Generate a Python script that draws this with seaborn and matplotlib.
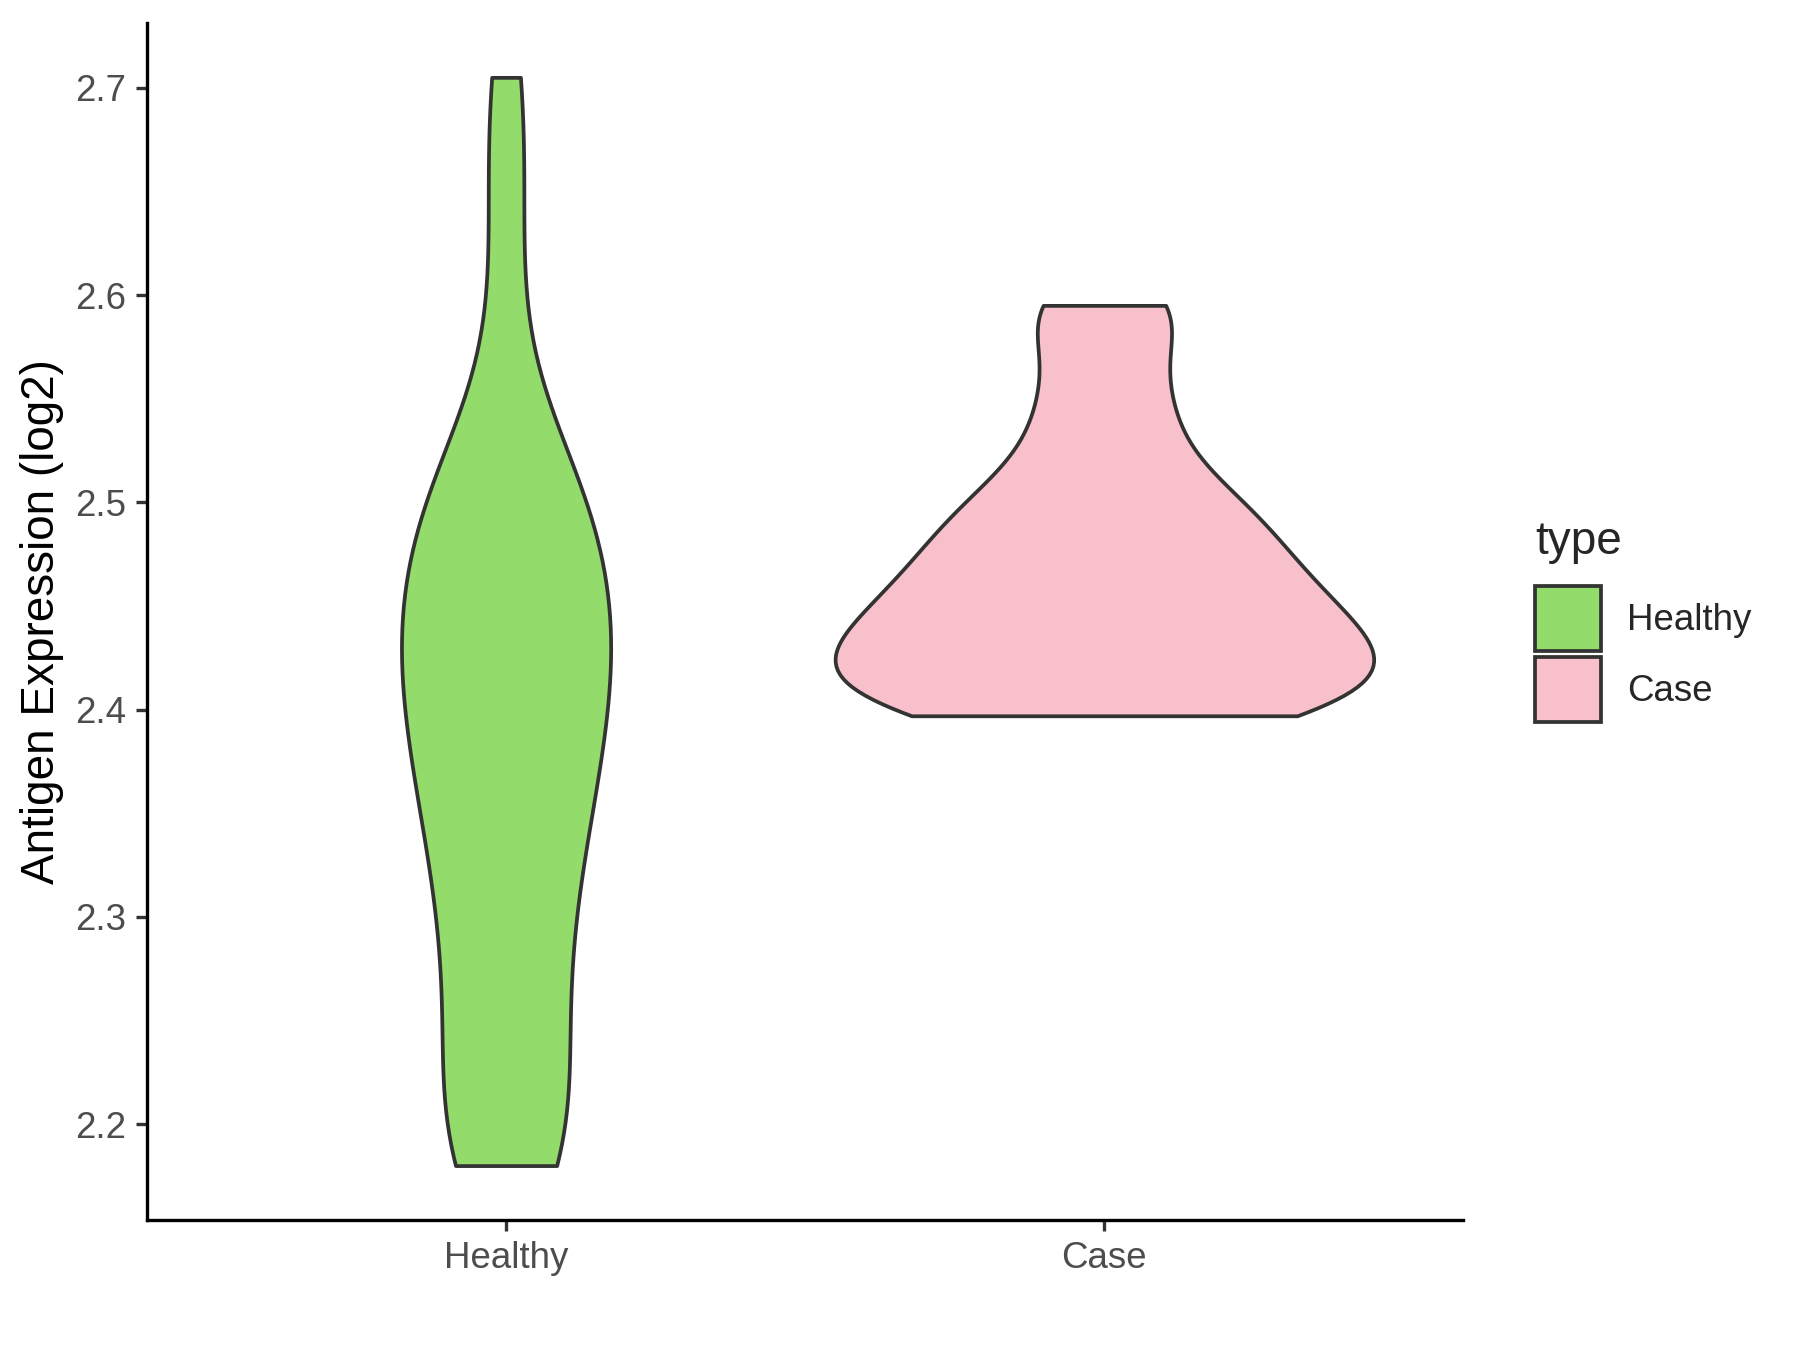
import pandas as pd
import matplotlib.pyplot as plt
import seaborn as sns
from matplotlib.patches import Patch

# values (log2 antigen expression)
groups = ["Healthy", "Case"]
healthy = [2.18, 2.182, 2.185, 2.195, 2.21, 2.23, 2.25, 2.265, 2.28, 2.295, 2.31,
           2.325, 2.34, 2.35, 2.36, 2.37, 2.38, 2.39, 2.40, 2.41, 2.42, 2.43, 2.435,
           2.44, 2.45, 2.46, 2.47, 2.48, 2.49, 2.50, 2.51, 2.52, 2.53, 2.60, 2.66,
           2.705]
case = [2.397, 2.399, 2.40, 2.405, 2.41, 2.415, 2.42, 2.425, 2.43, 2.435, 2.44,
        2.445, 2.45, 2.46, 2.465, 2.47, 2.48, 2.49, 2.495, 2.505, 2.52, 2.54, 2.56,
        2.59, 2.595]
colors = ["#93DC6B", "#F7C0CB"]
yticks = [2.2, 2.3, 2.4, 2.5, 2.6, 2.7]

df = pd.DataFrame({
    "type": ["Healthy"] * len(healthy) + ["Case"] * len(case),
    "value": healthy + case,
})

sns.set_style("white")
plt.rcParams["font.family"] = ["Liberation Sans", "DejaVu Sans"]

fig = plt.figure(figsize=(6, 4.5), dpi=300)
ax = fig.add_axes([0.0817, 0.0963, 0.7313, 0.8867])
# no hue here so "area" scaling is shared by both violins
sns.violinplot(data=df, x="type", y="value", order=groups, color="white",
               cut=0, inner=None, density_norm="area", width=0.9,
               bw_method=0.35, linewidth=0.9, linecolor="#333333", saturation=1, ax=ax)
for coll, c in zip(ax.collections, colors):
    coll.set_facecolor(c)

ax.set_xlim(-0.6, 1.6)
ax.set_ylim(2.15375, 2.73125)
ax.set_yticks(yticks)
ax.set_yticklabels([f"{t:.1f}" for t in yticks])
ax.set_xlabel("")
ax.set_ylabel("Antigen Expression (log2)", fontsize=11, color="black", labelpad=2.75)
ax.tick_params(axis="both", labelsize=8.8, labelcolor="#4D4D4D", color="#333333",
               length=2.75, width=0.8, pad=2.2, direction="out", bottom=True, left=True)
for s in ["top", "right"]:
    ax.spines[s].set_visible(False)
for s in ["left", "bottom"]:
    ax.spines[s].set_color("black")
    ax.spines[s].set_linewidth(0.8)

handles = [Patch(facecolor=c, edgecolor="#333333", linewidth=0.9) for c in colors]
leg = fig.legend(handles, groups, title="type", loc="center left", bbox_to_anchor=(0.853, 0.54),
                 frameon=False, fontsize=8.8, title_fontsize=11, handlelength=1.78,
                 handleheight=2.36, handletextpad=0.72, labelspacing=0.15,
                 borderpad=0, borderaxespad=0)
leg._legend_box.align = "left"
leg._legend_box.sep = 5.2  # more room under the title, like ggplot

fig.savefig("out.png", dpi=300)
